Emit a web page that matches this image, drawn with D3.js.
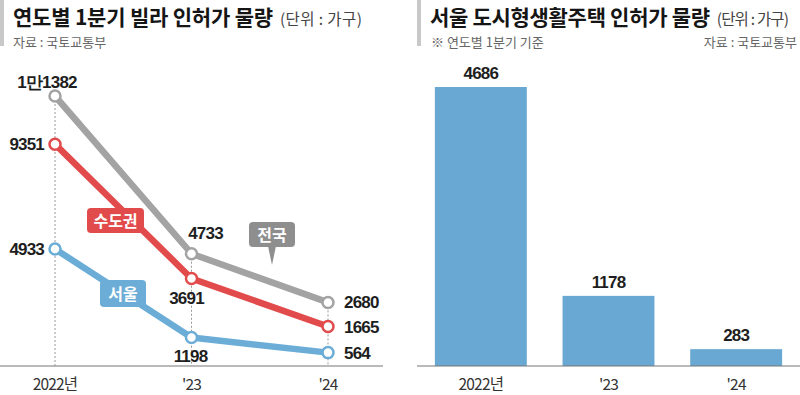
<!DOCTYPE html>
<html>
<head>
<meta charset="utf-8">
<script src="https://cdn.jsdelivr.net/npm/d3@7/dist/d3.min.js"></script>
<style>
  body { margin: 0; background: #fff; }
  svg { display: block; }
  .kr { font-family: "Noto Sans CJK KR", "Noto Sans", sans-serif; }
  .num { font-family: "Liberation Sans", Arial, sans-serif; font-weight: bold; fill: #1e1e1e; }
</style>
</head>
<body>
<div id="chart"></div>
<script>
// left chart: 1Q villa permits by year
const years = ["2022", "2023", "2024"];
const yearLabels = ["2022년", "'23", "'24"];
const nationwide = [11382, 4733, 2680];
const capital = [9351, 3691, 1665];
const seoul = [4933, 1198, 564];
const nationLabels = ["1만1382", "4733", "2680"];

// right chart: Seoul urban housing permits
const barValues = [4686, 1178, 283];

const W = 800, H = 395;
const svg = d3.select("#chart").append("svg")
    .attr("width", W)
    .attr("height", H);

// headers
function header(x0, title, spacing, unitSpacing) {
    svg.append("rect").attr("x", x0).attr("y", 0).attr("width", 4).attr("height", 46).attr("fill", "#c8c8c8");
    const t = svg.append("text").attr("class", "kr")
        .attr("x", x0 + 13).attr("y", 24.5)
        .attr("fill", "#151515");
    t.append("tspan").attr("font-size", 21).attr("font-weight", "bold").attr("letter-spacing", spacing).text(title);
    t.append("tspan").attr("font-size", 15.5).attr("fill", "#444").attr("dx", 7).attr("letter-spacing", unitSpacing).text("(단위 : 가구)");
}
header(0, "연도별 1분기 빌라 인허가 물량", -0.2, 0.4);
header(417, "서울 도시형생활주택 인허가 물량", -0.3, -0.8);

svg.append("text").attr("class", "kr").attr("x", 13).attr("y", 46.5)
    .attr("font-size", 13).attr("fill", "#666").text("자료 : 국토교통부");
svg.append("text").attr("class", "kr").attr("x", 431).attr("y", 46.5)
    .attr("font-size", 13).attr("fill", "#666").text("※ 연도별 1분기 기준");
svg.append("text").attr("class", "kr").attr("x", 797).attr("y", 46.5)
    .attr("text-anchor", "end")
    .attr("font-size", 13).attr("fill", "#666").text("자료 : 국토교통부");

// ---------- left: lines ----------
const x = d3.scalePoint().domain(years).range([55, 328]);
const y = d3.scaleLinear().domain([0, 11382]).range([366, 96]);

// axis baseline
svg.append("line").attr("x1", 0).attr("x2", 383).attr("y1", y(0)).attr("y2", y(0))
    .attr("stroke", "#777").attr("stroke-width", 1.2);

// dotted guides
const tops = years.map((yr, i) => Math.min(y(nationwide[i]), y(capital[i]), y(seoul[i])));
svg.selectAll(".guide").data(years).enter().append("line")
    .attr("x1", d => x(d)).attr("x2", d => x(d))
    .attr("y1", (d, i) => tops[i]).attr("y2", y(0))
    .attr("stroke", "#999").attr("stroke-width", 1).attr("stroke-dasharray", "2,2");

svg.selectAll(".xlab").data(years).enter().append("text")
    .attr("class", "kr")
    .attr("x", d => x(d)).attr("y", 390)
    .attr("text-anchor", "middle")
    .attr("font-size", 15.5).attr("fill", "#333").attr("letter-spacing", -0.8)
    .text((d, i) => yearLabels[i]);

const series = [
    { name: "전국", values: nationwide, color: "#a3a3a3" },
    { name: "수도권", values: capital, color: "#e24b4b" },
    { name: "서울", values: seoul, color: "#6badd7" }
];

const line = d3.line().x((d, i) => x(years[i])).y(d => y(d));

series.forEach(s => {
    svg.append("path").datum(s.values)
        .attr("d", line)
        .attr("fill", "none")
        .attr("stroke", s.color)
        .attr("stroke-width", 6.5)
        .attr("stroke-linejoin", "round");
});
series.forEach(s => {
    svg.selectAll(null).data(s.values).enter().append("circle")
        .attr("cx", (d, i) => x(years[i]))
        .attr("cy", d => y(d))
        .attr("r", 5.5)
        .attr("fill", "#fff")
        .attr("stroke", s.color)
        .attr("stroke-width", 2.5);
});

// value labels
function numLabel(px, py, txt, anchor) {
    svg.append("text").attr("class", "num")
        .attr("x", px).attr("y", py)
        .attr("text-anchor", anchor)
        .attr("font-size", 17).attr("letter-spacing", -0.8)
        .text(txt);
}
numLabel(x("2022") - 8, y(nationwide[0]) - 8, nationLabels[0], "middle");
numLabel(x("2022") - 11, y(capital[0]) + 6, capital[0], "end");
numLabel(x("2022") - 11, y(seoul[0]) + 6, seoul[0], "end");
numLabel(x("2023") + 14, y(nationwide[1]) - 15, nationLabels[1], "middle");
numLabel(x("2023") - 5, y(capital[1]) + 26, capital[1], "middle");
numLabel(x("2023") - 1, y(seoul[1]) + 24, seoul[1], "middle");
numLabel(x("2024") + 16, y(nationwide[2]) + 6, nationLabels[2], "start");
numLabel(x("2024") + 16, y(capital[2]) + 6, capital[2], "start");
numLabel(x("2024") + 16, y(seoul[2]) + 6, seoul[2], "start");

// callout tags
function tag(x0, y0, w, h, txt, color, pointer) {
    const g = svg.append("g");
    g.append("rect").attr("x", x0).attr("y", y0).attr("width", w).attr("height", h)
        .attr("rx", 4).attr("fill", color);
    if (pointer) {
        g.append("path")
            .attr("d", `M${pointer - 4},${y0 + h - 1} L${pointer + 4},${y0 + h - 1} L${pointer},${y0 + h + 18} Z`)
            .attr("fill", color);
    }
    g.append("text").attr("class", "kr")
        .attr("x", x0 + w / 2).attr("y", y0 + h / 2 + 6)
        .attr("text-anchor", "middle")
        .attr("font-size", 16).attr("font-weight", "bold").attr("fill", "#fff")
        .text(txt);
}
tag(87, 208, 57, 25, "수도권", series[1].color);
tag(100, 280, 46, 27, "서울", series[2].color);
tag(249, 222, 46, 25, "전국", "#8e8e8e", 272);

// ---------- right: bars ----------
const xb = d3.scaleBand().domain(years).range([417, 800]).paddingInner(0.28).paddingOuter(0.14);
const yb = d3.scaleLinear().domain([0, 4686]).range([366, 87]);

svg.selectAll(".bar").data(barValues).enter().append("rect")
    .attr("x", (d, i) => xb(years[i]))
    .attr("width", xb.bandwidth())
    .attr("y", d => yb(d))
    .attr("height", d => yb(0) - yb(d))
    .attr("fill", "#68a8d2");

svg.append("line").attr("x1", 417).attr("x2", 800).attr("y1", yb(0)).attr("y2", yb(0))
    .attr("stroke", "#777").attr("stroke-width", 1.2);

svg.selectAll(".blab").data(barValues).enter().append("text")
    .attr("class", "num")
    .attr("x", (d, i) => xb(years[i]) + xb.bandwidth() / 2)
    .attr("y", d => yb(d) - 8)
    .attr("text-anchor", "middle")
    .attr("font-size", 17).attr("letter-spacing", -0.8)
    .text(d => d);

svg.selectAll(".bxlab").data(years).enter().append("text")
    .attr("class", "kr")
    .attr("x", d => xb(d) + xb.bandwidth() / 2).attr("y", 390)
    .attr("text-anchor", "middle")
    .attr("font-size", 15.5).attr("fill", "#333").attr("letter-spacing", -0.8)
    .text((d, i) => yearLabels[i]);
</script>
</body>
</html>
